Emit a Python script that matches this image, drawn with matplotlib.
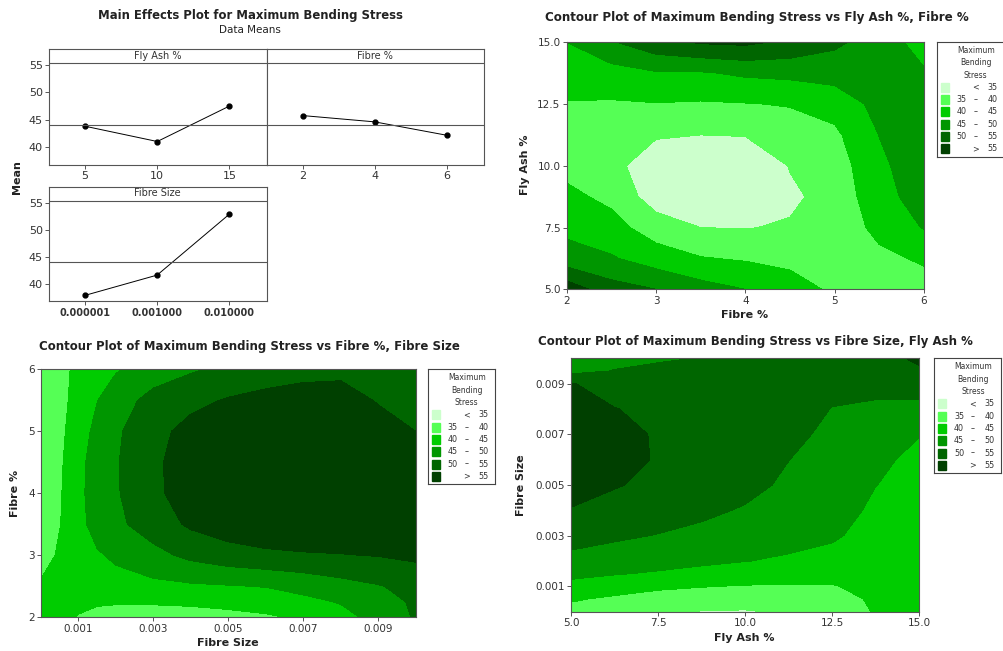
import matplotlib
matplotlib.use("Agg")
import matplotlib.pyplot as plt
import numpy as np
from matplotlib.patches import Rectangle

W, H = 1004, 651

# main effects plot (data means)
fly_ash_levels = ["5", "10", "15"]
fly_ash_means = [43.8, 41.0, 47.5]
fibre_levels = ["2", "4", "6"]
fibre_means = [45.75, 44.6, 42.15]
size_levels = ["0.000001", "0.001000", "0.010000"]
size_means = [37.85, 41.6, 52.85]

# contour bands
levels = [0, 35, 40, 45, 50, 55, 100]
level_colors = ["#ccffcc", "#55ff55", "#00cc00", "#009600", "#006600", "#004000"]

# contour 1: stress over Fibre % (x) and Fly Ash % (y)
c1_fibre = [2, 2.5, 3, 3.5, 4, 4.5, 5, 5.5, 6]
c1_fly_ash = [5, 6.25, 7.5, 8.75, 10, 11.25, 12.5, 13.75, 15]
c1_stress = [
    [58.0, 52.0, 50.0, 47.0, 45.0, 42.5, 39.0, 37.5, 38.0],
    [47.0, 45.5, 42.5, 40.3, 39.5, 38.5, 37.5, 38.8, 40.7],
    [43.8, 41.8, 37.5, 35.0, 34.8, 35.5, 36.5, 41.5, 45.3],
    [41.2, 38.8, 32.5, 30.5, 30.0, 34.0, 37.0, 43.0, 47.5],
    [38.5, 36.5, 32.0, 29.5, 29.5, 35.3, 37.5, 44.0, 48.0],
    [37.5, 36.8, 35.5, 35.0, 35.3, 37.5, 39.0, 45.1, 48.0],
    [39.7, 39.5, 39.8, 39.5, 39.8, 40.3, 42.0, 46.5, 47.5],
    [42.5, 43.0, 44.5, 44.5, 45.8, 46.3, 47.0, 47.5, 45.5],
    [45.0, 49.5, 53.5, 55.5, 56.0, 54.0, 51.0, 47.5, 43.0],
]

# contour 2: stress over Fibre Size (x) and Fibre % (y)
c2_size = [0.000001, 0.0005, 0.001, 0.0015, 0.002, 0.003, 0.004,
           0.005, 0.006, 0.007, 0.008, 0.009, 0.01]
c2_fibre = [2, 2.25, 2.5, 3, 3.5, 4, 4.5, 5, 5.5, 6]
c2_stress = [
    [41.8, 40.8, 39.8, 38.8, 38.3, 37.9, 38.1, 38.6, 39.3, 40.8, 43.5, 46.5, 50.5],
    [41.5, 41.3, 40.8, 40.5, 40.4, 40.5, 40.8, 41.4, 42.3, 43.8, 45.3, 47.8, 50.8],
    [41.0, 42.3, 42.6, 43.0, 43.3, 43.8, 44.3, 44.7, 45.2, 46.5, 48.2, 49.7, 51.5],
    [37.0, 41.0, 43.2, 44.5, 45.8, 48.5, 51.2, 53.0, 54.0, 54.5, 54.8, 55.2, 56.0],
    [35.2, 39.8, 43.6, 46.8, 48.9, 52.5, 55.8, 57.6, 58.6, 59.0, 58.8, 58.2, 57.2],
    [34.7, 39.5, 43.8, 47.3, 49.5, 54.0, 57.3, 58.7, 59.3, 59.4, 59.1, 58.3, 57.2],
    [34.6, 39.2, 43.6, 47.2, 49.6, 54.2, 57.2, 58.5, 59.0, 59.0, 58.5, 57.6, 56.5],
    [34.8, 38.8, 42.8, 46.3, 49.2, 53.6, 56.5, 57.6, 58.0, 57.9, 57.3, 56.2, 55.0],
    [35.5, 38.5, 41.8, 44.9, 47.5, 51.8, 53.8, 55.4, 56.3, 56.6, 56.2, 54.8, 53.0],
    [36.0, 38.5, 41.2, 43.0, 44.6, 47.2, 49.4, 51.3, 52.8, 53.8, 54.3, 54.2, 53.5],
]

# contour 3: stress over Fly Ash % (x) and Fibre Size (y)
c3_fly_ash = [5, 6.25, 7.5, 8.75, 10, 11.25, 12.5, 13.75, 15]
c3_size = [0.000001, 0.0005, 0.001, 0.0015, 0.002, 0.003, 0.004,
           0.005, 0.006, 0.007, 0.008, 0.009, 0.0095, 0.01]
c3_stress = [
    [38.5, 37.5, 36.5, 34.8, 34.7, 35.5, 36.2, 40.5, 42.0],
    [40.5, 39.2, 38.2, 37.3, 36.8, 37.0, 37.5, 41.0, 42.0],
    [43.5, 42.2, 40.8, 40.2, 39.7, 39.6, 39.7, 41.5, 42.0],
    [46.2, 45.3, 44.5, 43.7, 42.7, 42.2, 41.8, 42.0, 42.1],
    [48.5, 47.5, 46.7, 45.8, 45.1, 44.4, 43.5, 42.5, 42.3],
    [52.0, 50.8, 49.8, 48.9, 47.6, 46.5, 45.6, 43.3, 42.8],
    [54.8, 53.5, 52.4, 50.9, 49.6, 48.0, 46.8, 44.2, 43.4],
    [56.5, 55.3, 54.0, 52.4, 51.3, 49.2, 47.6, 45.05, 43.8],
    [57.3, 56.3, 54.7, 53.3, 52.3, 50.05, 48.3, 45.6, 44.3],
    [57.5, 56.3, 54.6, 53.6, 52.7, 51.0, 49.1, 47.6, 45.1],
    [56.8, 55.1, 54.2, 53.3, 52.5, 51.6, 49.9, 49.3, 48.5],
    [55.2, 53.5, 53.0, 52.4, 51.6, 51.5, 51.0, 51.2, 52.5],
    [48.5, 50.2, 51.3, 51.5, 51.2, 51.3, 51.4, 52.0, 54.3],
    [46.5, 48.5, 49.3, 50.2, 50.6, 50.8, 51.5, 52.8, 56.0],
]

plt.rcParams["font.family"] = "DejaVu Sans"
TXT = "#222222"
EDGE = "#555555"

fig = plt.figure(figsize=(W / 100, H / 100), dpi=100)


def px_ax(x0, y0, x1, y1):
    return fig.add_axes([x0 / W, 1 - y1 / H, (x1 - x0) / W, (y1 - y0) / H])


def ftext(x, y, s, **kw):
    kw.setdefault("ha", "center")
    kw.setdefault("va", "center")
    kw.setdefault("color", TXT)
    fig.text(x / W, 1 - y / H, s, **kw)


def style_axes(ax):
    for sp in ax.spines.values():
        sp.set_color(EDGE)
        sp.set_linewidth(0.8)
    ax.tick_params(direction="out", length=3, width=0.7, colors=EDGE,
                   labelsize=7.5, labelcolor="#333333", pad=1.5)


grand_mean = np.mean(fly_ash_means)


def effects_panel(ax, labels, means, name, show_y=True, bold_x=False):
    xs = np.arange(len(means))
    ax.plot(xs, means, color="black", lw=0.7, marker="o", ms=3.5)
    ax.axhline(grand_mean, color="#555555", lw=0.8)
    ax.axhline(55.4, color="#555555", lw=0.8)
    ax.text(1, 56.7, name, ha="center", va="center", fontsize=7, color="#333333")
    ax.set_xlim(-0.5, 2.52)
    ax.set_ylim(36.75, 57.9)
    ax.set_xticks(xs, labels)
    if show_y:
        ax.set_yticks([40, 45, 50, 55])
    else:
        ax.set_yticks([])
    style_axes(ax)
    ax.tick_params(labelsize=8)
    if bold_x:
        for t in ax.get_xticklabels():
            t.set_fontweight("bold")
            t.set_fontsize(7)


ax_fa = px_ax(49, 49.3, 267, 164.7)
effects_panel(ax_fa, fly_ash_levels, fly_ash_means, "Fly Ash %")
ax_fp = px_ax(267, 49.3, 484, 164.7)
effects_panel(ax_fp, fibre_levels, fibre_means, "Fibre %", show_y=False)
ax_fs = px_ax(49, 187, 266.7, 301.3)
effects_panel(ax_fs, size_levels, size_means, "Fibre Size", bold_x=True)

ftext(250, 15, "Main Effects Plot for Maximum Bending Stress", fontsize=8.4, fontweight="bold")
ftext(250, 30, "Data Means", fontsize=7.5)
ftext(17, 177, "Mean", fontsize=8, fontweight="bold", rotation=90)


def draw_legend(x0, y0):
    lg = px_ax(x0, y0, x0 + 67, y0 + 115)
    lg.set_xlim(0, 67)
    lg.set_ylim(115, 0)
    lg.set_xticks([])
    lg.set_yticks([])
    for sp in lg.spines.values():
        sp.set_color("#444444")
        sp.set_linewidth(0.8)
    for i, line in enumerate(["Maximum", "Bending", "Stress"]):
        lg.text(39, 8.5 + 12.4 * i, line, ha="center", va="center", fontsize=5.5, color="#333333")
    n = len(level_colors)
    for i, col in enumerate(level_colors):
        yy = 45.6 + 12.3 * i
        lg.add_patch(Rectangle((4.5, yy - 4.5), 8, 9, color=col))
        if i == 0:
            parts = ("", "<", str(levels[1]))
        elif i == n - 1:
            parts = ("", ">", str(levels[-2]))
        else:
            parts = (str(levels[i]), "\u2013", str(levels[i + 1]))
        for xx, s in zip((25, 38.5, 55.5), parts):
            lg.text(xx, yy, s, ha="center", va="center", fontsize=5.8, color="#333333")


def contour_panel(ax, x, y, z):
    ax.contourf(x, y, np.array(z), levels=levels, colors=level_colors)
    ax.set_xlim(min(x), max(x))
    ax.set_ylim(min(y), max(y))
    style_axes(ax)


# contour 1
ax1 = px_ax(566.7, 42.3, 924, 289.3)
contour_panel(ax1, c1_fibre, c1_fly_ash, c1_stress)
ax1.set_xticks([2, 3, 4, 5, 6])
ax1.set_yticks([5, 7.5, 10, 12.5, 15], ["5.0", "7.5", "10.0", "12.5", "15.0"])
draw_legend(936.7, 41.7)
ftext(757, 18, "Contour Plot of Maximum Bending Stress vs Fly Ash %, Fibre %",
      fontsize=8.6, fontweight="bold")
ftext(745, 315, "Fibre %", fontsize=8, fontweight="bold")
ftext(525, 165, "Fly Ash %", fontsize=8, fontweight="bold", rotation=90)

# contour 2
ax2 = px_ax(41, 369.3, 415.7, 617.3)
contour_panel(ax2, c2_size, c2_fibre, c2_stress)
ax2.set_xlim(0.000001, 0.01)
ax2.set_xticks([0.001, 0.003, 0.005, 0.007, 0.009],
               ["0.001", "0.003", "0.005", "0.007", "0.009"])
ax2.set_yticks([2, 3, 4, 5, 6])
draw_legend(427.7, 369.3)
ftext(249, 346.7, "Contour Plot of Maximum Bending Stress vs Fibre %, Fibre Size",
      fontsize=8.5, fontweight="bold")
ftext(228, 643, "Fibre Size", fontsize=8, fontweight="bold")
ftext(15, 493, "Fibre %", fontsize=8, fontweight="bold", rotation=90)

# contour 3
ax3 = px_ax(571, 358.3, 919.3, 611.7)
contour_panel(ax3, c3_fly_ash, c3_size, c3_stress)
ax3.set_xticks([5, 7.5, 10, 12.5, 15], ["5.0", "7.5", "10.0", "12.5", "15.0"])
ax3.set_yticks([0.001, 0.003, 0.005, 0.007, 0.009],
               ["0.001", "0.003", "0.005", "0.007", "0.009"])
draw_legend(934, 358.3)
ftext(755, 341.7, "Contour Plot of Maximum Bending Stress vs Fibre Size, Fly Ash %",
      fontsize=8.5, fontweight="bold")
ftext(744, 638, "Fly Ash %", fontsize=8, fontweight="bold")
ftext(520.7, 485, "Fibre Size", fontsize=8, fontweight="bold", rotation=90)

fig.savefig("out.png", dpi=100)
